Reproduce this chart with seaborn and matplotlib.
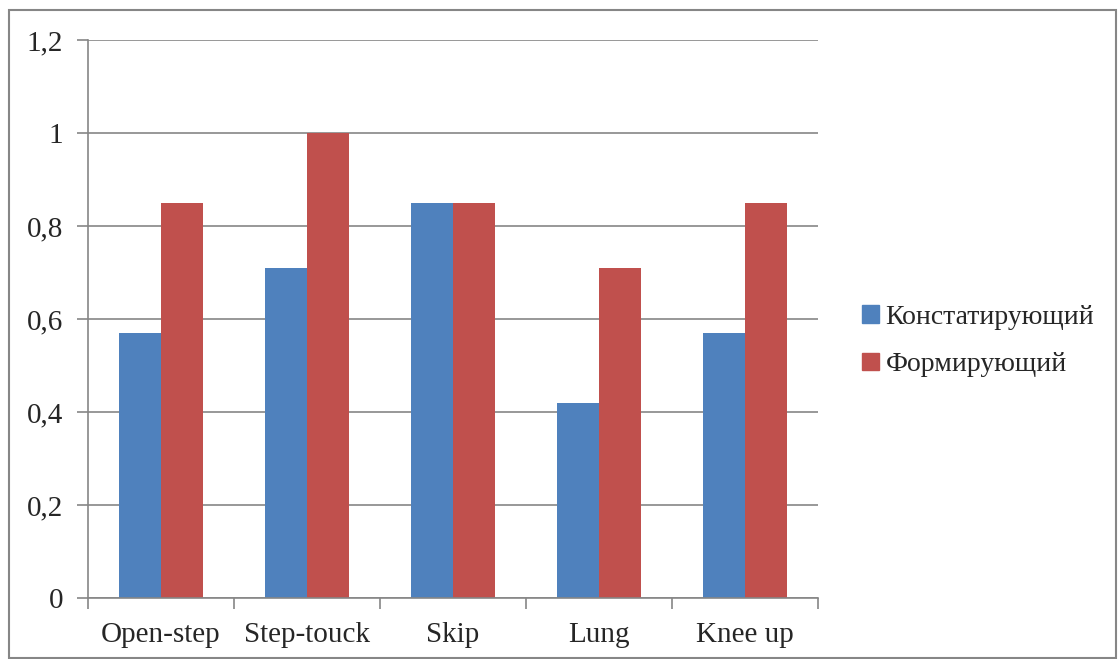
import pandas as pd
import numpy as np
import matplotlib
matplotlib.use('Agg')
import matplotlib.pyplot as plt
import matplotlib.patches as mpatches
from matplotlib.ticker import FixedLocator, FuncFormatter
import seaborn as sns

# Data
categories = ['Open-step', 'Step-touck', 'Skip', 'Lung', 'Knee up']
konst = [0.57, 0.71, 0.85, 0.42, 0.57]
form = [0.85, 1.0, 0.85, 0.71, 0.85]
series_names = ['Констатирующий', 'Формирующий']

df = pd.DataFrame({
    'cat': categories * 2,
    'val': konst + form,
    'series': [series_names[0]] * len(categories) + [series_names[1]] * len(categories),
})

sns.set_style('white')
plt.rcParams['font.family'] = ['Liberation Serif', 'DejaVu Serif']

fig = plt.figure(figsize=(11.18, 6.59), dpi=100)
ax = fig.add_axes([88 / 1118, 1 - 598 / 659, 730 / 1118, 558 / 659])

sns.barplot(data=df, x='cat', y='val', hue='series', ax=ax,
            palette=['#4F81BD', '#C0504D'], width=0.57, gap=0,
            saturation=1, errorbar=None, legend=False, linewidth=0)

# axes styling
grid_col = '#868686'
ax.set_ylim(0, 1.2)
ax.set_xlim(-0.5, 4.5)
ax.set_yticks(np.arange(0, 1.21, 0.2))
ax.yaxis.set_major_formatter(FuncFormatter(lambda v, p: ('%g' % round(v, 1)).replace('.', ',')))
ax.yaxis.grid(True, color=grid_col, linewidth=1.2)
ax.set_axisbelow(True)
for s in ['top', 'right']:
    ax.spines[s].set_visible(False)
for s in ['left', 'bottom']:
    ax.spines[s].set_color(grid_col)
    ax.spines[s].set_linewidth(1.2)

ax.tick_params(axis='y', which='major', length=8, width=1.2, color=grid_col,
               labelsize=21, pad=10, direction='out', left=True)
ax.tick_params(axis='x', which='major', length=0, labelsize=21, pad=17)
ax.xaxis.set_minor_locator(FixedLocator(np.arange(-0.5, 4.6, 1)))
ax.tick_params(axis='x', which='minor', length=8, width=1.2, color=grid_col,
               direction='out', bottom=True)
ax.set_xlabel('')
ax.set_ylabel('')

# legend
handles = [mpatches.Patch(color=c, label=n) for c, n in zip(['#4F81BD', '#C0504D'], series_names)]
fig.legend(handles=handles, loc='center left', bbox_to_anchor=(837 / 1118, 1 - 341 / 659),
           frameon=False, fontsize=20, handlelength=0.6, handleheight=0.6,
           handletextpad=0.25, labelspacing=0.8)

# outer frame
fig.patches.append(mpatches.Rectangle((9 / 1118, 1 / 659), 1107 / 1118, 648 / 659,
                                      transform=fig.transFigure, fill=False,
                                      edgecolor=grid_col, linewidth=1.5))

fig.savefig('out.png', dpi=100)
